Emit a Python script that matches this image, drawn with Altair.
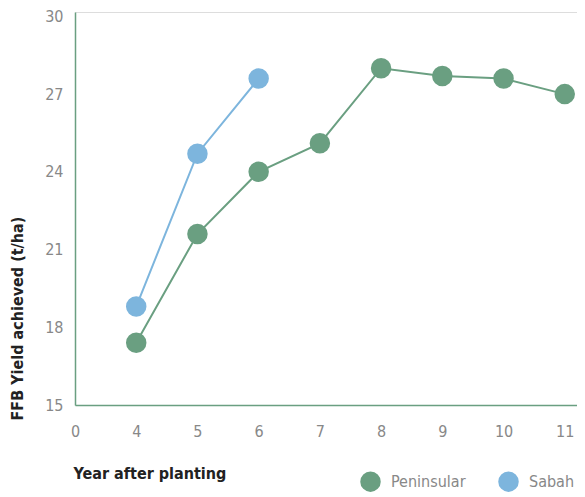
import altair as alt
import pandas as pd

years = [4, 5, 6, 7, 8, 9, 10, 11]
peninsular = [17.4, 21.6, 24.0, 25.1, 28.0, 27.7, 27.6, 27.0]
sabah_years = [4, 5, 6]
sabah = [18.8, 24.7, 27.6]
x_ticks = [3, 4, 5, 6, 7, 8, 9, 10, 11]
y_ticks = [15, 18, 21, 24, 27, 30]

df = pd.DataFrame(
    {"year": years + sabah_years,
     "yield": peninsular + sabah,
     "region": ["Peninsular"] * len(years) + ["Sabah"] * len(sabah_years)}
)

GREEN = "#6a9f81"
BLUE = "#7db5dd"
FONT = "DejaVu Sans Condensed"

color = alt.Color(
    "region:N",
    scale=alt.Scale(domain=["Peninsular", "Sabah"], range=[GREEN, BLUE]),
    legend=alt.Legend(
        title=None, orient="none", direction="horizontal",
        legendX=285, legendY=459, symbolType="circle", symbolSize=420,
        symbolStrokeWidth=0, labelFontSize=16, labelColor="#888888",
        labelFont=FONT, labelOffset=10, columnPadding=32, padding=0,
    ),
)

x = alt.X(
    "year:Q",
    scale=alt.Scale(domain=[3, 11.2], nice=False, zero=False),
    axis=alt.Axis(
        values=x_ticks, labelExpr="datum.value == 3 ? '0' : datum.label",
        title="Year after planting", titleAnchor="start", titleAlign="left",
        titleX=-2, titleY=68, titleBaseline="middle",
        titleFont=FONT, titleFontSize=16, titleFontWeight="bold", titleColor="#222222",
        ticks=False, grid=False, domainColor=GREEN, domainWidth=1.5,
        labelFont=FONT, labelFontSize=16, labelColor="#888888", labelPadding=18,
        labelFlush=False,
    ),
)
y = alt.Y(
    "yield:Q",
    scale=alt.Scale(domain=[15, 30.17], nice=False, zero=False),
    axis=alt.Axis(
        values=y_ticks, title="FFB Yield achieved (t/ha)",
        titleAngle=270, titleAlign="left", titleBaseline="middle",
        titleX=-58, titleY=408,
        titleFont=FONT, titleFontSize=16, titleFontWeight="bold", titleColor="#222222",
        ticks=False, grid=False, domainColor=GREEN, domainWidth=1.5,
        labelFont=FONT, labelFontSize=16, labelColor="#888888", labelPadding=12,
        labelFlush=False,
    ),
)

lines = alt.Chart(df).mark_line(strokeWidth=2).encode(x=x, y=y, color=color, detail="region:N")
points = alt.Chart(df).mark_circle(size=420, opacity=1).encode(x=x, y=y, color=color)

chart = (
    alt.layer(lines, points)
    .properties(
        width=502, height=393,
        autosize=alt.AutoSizeParams(type="none"),
        padding={"left": 67, "top": 4, "right": 0, "bottom": 88},
    )
    .configure_view(stroke=None)
    .configure(background="white")
)

chart.save("out.html", embed_options={"renderer": "svg", "actions": False})
